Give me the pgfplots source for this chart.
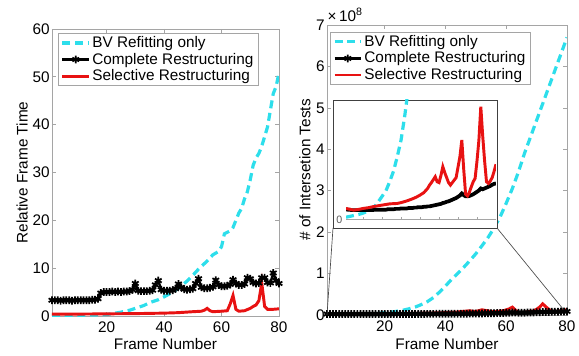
\documentclass[border=0pt]{standalone}
\usepackage{pgfplots}
\usepackage{pgfplotstable}
\pgfplotsset{compat=1.18}
\usepackage{fontspec}
\setmainfont{Liberation Sans}
\definecolor{bvcyan}{RGB}{45,222,235}
\definecolor{selred}{RGB}{232,18,18}
\definecolor{axgray}{RGB}{165,165,165}

% ---------- left plot: relative frame time ----------
\pgfplotstableread{
x y
1 0.1
10 0.15
18 0.25
20 0.3
22 0.5
25 0.8
28 1.2
30 1.6
33 2.2
35 2.8
38 3.4
40 4.0
43 5.0
45 5.8
48 7.3
50 8.5
52 9.8
55 11.5
57 12.8
59 13.5
60 14.5
61 17.2
62 17.5
63 17.8
64 18.5
65 20.0
66 21.5
67 22.5
68 24.5
69 26.0
70 28.5
71 31.5
72 33.0
73 34.0
74 35.5
75 37.5
76 39.5
77 43.0
78 46.5
79 48.0
80 50.8
}\leftcyan

\pgfplotstableread{
x y
1 3.3
2 3.3
3 3.3
4 3.2
5 3.3
6 3.3
7 3.3
8 3.2
9 3.3
10 3.3
11 3.3
12 3.3
13 3.3
14 3.3
15 3.4
16 3.4
17 3.6
18 4.8
19 5.0
20 5.0
21 5.0
22 5.1
23 5.0
24 5.1
25 5.0
26 5.1
27 5.1
28 5.2
29 5.5
30 6.8
31 5.3
32 5.2
33 5.2
34 5.2
35 5.3
36 5.4
37 6.5
38 7.4
39 5.5
40 5.3
41 5.3
42 5.3
43 5.4
44 5.7
45 6.7
46 6.0
47 5.6
48 5.5
49 5.6
50 5.7
51 6.8
52 7.8
53 6.0
54 5.8
55 5.8
56 5.9
57 6.1
58 7.5
59 6.5
60 6.2
61 6.2
62 6.3
63 6.6
64 7.6
65 6.8
66 6.5
67 6.5
68 6.7
69 8.0
70 7.8
71 7.0
72 6.8
73 6.9
74 8.0
75 8.0
76 7.0
77 6.9
78 9.0
79 7.4
80 6.8
}\leftblack

\pgfplotstableread{
x y
1 0.4
10 0.4
20 0.45
30 0.5
40 0.6
45 0.7
50 0.9
53 1.0
54 1.2
55 1.6
56 1.1
57 0.9
60 1.0
62 1.1
63 2.5
64 4.3
65 1.4
66 1.0
68 1.1
70 1.6
71 2.0
72 2.3
73 3.2
74 6.9
75 2.0
76 1.4
78 1.4
80 1.5
}\leftred

% ---------- right plot: intersection tests (x 10^8) ----------
\pgfplotstableread{
x y
1 0.005
4 0.008
8 0.012
12 0.018
14 0.022
16 0.030
18 0.042
20 0.055
22 0.068
24 0.090
26 0.115
28 0.150
30 0.190
32 0.250
34 0.320
36 0.420
38 0.550
40 0.700
42 0.860
44 1.000
46 1.150
48 1.310
50 1.480
52 1.670
54 1.870
56 2.100
58 2.370
60 2.700
62 3.050
64 3.450
66 3.900
68 4.300
70 4.700
72 5.100
74 5.500
76 5.900
78 6.300
80 6.700
}\rightcyan

\pgfplotstableread{
x y
1 0.024
2 0.023
3 0.023
4 0.022
5 0.022
6 0.022
7 0.022
8 0.022
9 0.022
10 0.022
11 0.022
12 0.022
13 0.022
14 0.022
15 0.022
16 0.023
17 0.023
18 0.023
19 0.023
20 0.023
21 0.023
22 0.023
23 0.024
24 0.024
25 0.024
26 0.024
27 0.025
28 0.025
29 0.025
30 0.026
31 0.026
32 0.026
33 0.026
34 0.027
35 0.027
36 0.027
37 0.028
38 0.028
39 0.029
40 0.029
41 0.029
42 0.030
43 0.030
44 0.031
45 0.031
46 0.032
47 0.033
48 0.034
49 0.035
50 0.036
51 0.037
52 0.039
53 0.040
54 0.042
55 0.043
56 0.045
57 0.047
58 0.049
59 0.051
60 0.054
61 0.057
62 0.062
63 0.058
64 0.055
65 0.055
66 0.056
67 0.058
68 0.060
69 0.063
70 0.066
71 0.069
72 0.074
73 0.072
74 0.074
75 0.076
76 0.078
77 0.080
78 0.083
79 0.085
80 0.086
}\rightblack

\pgfplotstableread{
x y
1 0.026
3 0.024
5 0.022
8 0.024
10 0.026
13 0.028
16 0.031
20 0.034
24 0.037
28 0.038
30 0.040
33 0.044
36 0.049
38 0.053
40 0.058
42 0.064
44 0.074
45 0.082
46 0.088
47 0.095
48 0.102
49 0.090
50 0.088
51 0.105
52 0.126
53 0.112
54 0.100
55 0.088
56 0.082
57 0.088
58 0.094
59 0.100
60 0.125
61 0.150
62 0.190
63 0.120
64 0.060
65 0.056
66 0.065
67 0.078
68 0.090
69 0.098
70 0.140
71 0.190
72 0.270
73 0.200
74 0.140
75 0.090
76 0.086
77 0.092
78 0.100
79 0.115
80 0.132
}\rightred

\pgfplotsset{
  matlab/.style={
    scale only axis,
    axis line style={axgray, line width=0.6pt},
    tick style={axgray, line width=0.5pt},
    major tick length=3pt,
    tick align=inside,
    /pgf/number format/assume math mode=true,
    xmin=1, xmax=80,
    xtick={20,40,60,80},
    scaled y ticks=false,
    yticklabel style={inner xsep=1.5pt},
    xticklabel style={yshift=-1pt},
    legend cell align=left,
    legend style={draw=axgray, fill=white, anchor=north west,
      nodes={inner sep=1.3pt}, inner xsep=2pt, inner ysep=1pt},
    legend image code/.code={\draw[mark repeat=2,mark phase=2,##1]
      plot coordinates {(0cm,0cm) (0.35cm,0cm) (0.7cm,0cm)};},
  },
  cyanline/.style={bvcyan, line width=2.4pt, dash pattern=on 6pt off 3.5pt},
  blackline/.style={black, line width=1.8pt, mark=asterisk, mark size=2.9pt,
    mark options={solid, line width=1.3pt}},
  redline/.style={selred, line width=2.2pt},
}

\begin{document}
\begin{tikzpicture}[font=\fontsize{11.5}{13.8}\selectfont]
\useasboundingbox (0pt,0pt) rectangle (434.25pt,-267pt);

% ---------------- left axis ----------------
\begin{axis}[matlab,
  at={(39pt,-237pt)}, anchor=south west,
  width=170.25pt, height=215.25pt,
  ymin=0, ymax=60, ytick={0,10,...,60},
  xlabel={Frame Number}, ylabel={Relative Frame Time},
  xlabel style={at={(axis description cs:0.5,-0.097)}, anchor=center},
  ylabel style={at={(axis description cs:-0.132,0.5)}, anchor=center},
  legend style={at={(0.026,0.986)}},
]
\addplot[cyanline] table {\leftcyan};
\addlegendentry{BV Refitting only}
\addplot[blackline] table {\leftblack};
\addlegendentry{Complete Restructuring}
\addplot[redline] table {\leftred};
\addlegendentry{Selective Restructuring}
\end{axis}

% ---------------- right axis ----------------
\begin{axis}[matlab,
  at={(245.25pt,-236.25pt)}, anchor=south west,
  width=180pt, height=217.5pt,
  ymin=0, ymax=7, ytick={0,1,...,7},
  xlabel={Frame Number}, ylabel={\# of Intersetion Tests},
  xlabel style={at={(axis description cs:0.5,-0.099)}, anchor=center},
  ylabel style={at={(axis description cs:-0.092,0.5)}, anchor=center},
  legend style={at={(0.0125,0.976)}},
]
\addplot[cyanline] table {\rightcyan};
\addlegendentry{BV Refitting only}
\addplot[blackline] table {\rightblack};
\addlegendentry{Complete Restructuring}
\addplot[redline] table {\rightred};
\addlegendentry{Selective Restructuring}
\end{axis}

\node[anchor=base west, inner sep=0pt] at (245.5pt,-16.5pt)
  {×\,10\raisebox{0.85ex}{\fontsize{8}{9}\selectfont 8}};

% ---------------- inset ----------------
\fill[white] (249.75pt,-75pt) rectangle (372.75pt,-171pt);
\draw[black!75, line width=0.6pt] (249.75pt,-75pt) rectangle (372.75pt,-171pt);
\draw[black!70, line width=0.5pt] (249.75pt,-171pt) -- (245.25pt,-236.25pt);
\draw[black!70, line width=0.5pt] (372.75pt,-171pt) -- (422.5pt,-232pt);

\begin{axis}[
  scale only axis,
  at={(259.5pt,-164.475pt)}, anchor=south west,
  width=112.5pt, height=89.475pt,
  xmin=1, xmax=80, ymin=0, ymax=0.286,
  axis x line=bottom, axis y line=none,
  axis line style={axgray, -, line width=0.6pt},
  tick style={axgray, line width=0.5pt},
  major tick length=2pt, tick align=inside,
  xtick={10,20,...,70}, xticklabels={}, ytick=\empty,
]
\addplot[cyanline] table {\rightcyan};
\addplot[black, line width=2.8pt] table {\rightblack};
\addplot[redline] table {\rightred};
\end{axis}
\node[text=black!65, font=\fontsize{8}{9}\selectfont, inner sep=0pt] at (254.5pt,-164.5pt) {0};

\end{tikzpicture}
\end{document}
